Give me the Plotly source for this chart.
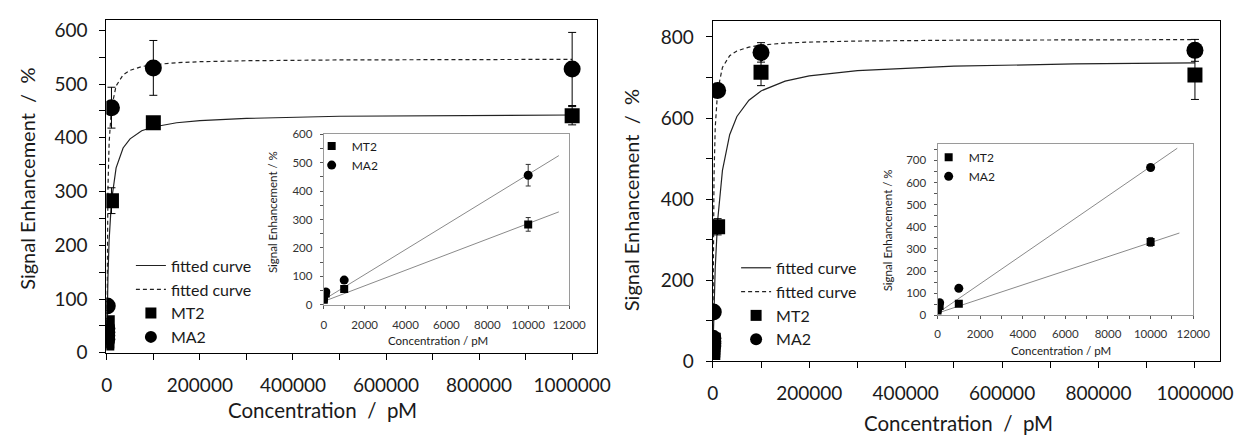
import plotly.graph_objects as go

W, H = 1255, 446

# ---------------- data ----------------
conc = [0, 1, 10, 100, 1000, 10000, 100000, 1000000]

# left panel
L_mt2 = [18, 22, 30, 40, 56, 283, 428, 441]
L_mt2_err = [3, 3, 4, 5, 8, 24, 6, 17]
L_ma2 = [25, 32, 38, 45, 87, 456, 530, 528]
L_ma2_err = [3, 3, 4, 5, 8, 38, 51, 68]

# right panel
R_mt2 = [22, 28, 35, 42, 52, 332, 713, 706]
R_mt2_err = [3, 3, 4, 5, 6, 20, 33, 60]
R_ma2 = [38, 45, 50, 57, 122, 668, 762, 767]
R_ma2_err = [3, 4, 5, 6, 8, 12, 24, 27]

# fitted curves
fit_x = [0, 500, 1000, 2500, 5000, 10000, 20000, 35000, 50000, 75000,
         100000, 150000, 200000, 300000, 500000, 750000, 1000000]
L_fit_mt2 = [20, 50, 79, 142, 210, 282, 344, 381, 398, 413,
             420, 428, 432, 436, 440, 441.5, 442.4]
L_fit_ma2 = [30, 127, 193, 307, 391, 455, 496.5, 517, 525.5, 532.5,
             536, 539.6, 541.5, 543.3, 544.8, 545.5, 545.9]
R_fit_mt2 = [15, 44, 71, 141, 230, 347, 471, 559, 604, 644,
             667, 691, 704, 717, 728, 733.5, 736]
R_fit_ma2 = [30, 183, 285, 455, 576, 667.5, 725, 754, 765.6, 775,
             780, 785, 787.4, 790, 792, 793, 793.5]

# inset linear fits (end points)
L_lin_x_ma2 = [0, 11500]
L_lin_ma2 = [18, 525]
L_lin_x_mt2 = [0, 11500]
L_lin_mt2 = [12, 327]
R_lin_x_ma2 = [0, 11250]
R_lin_ma2 = [10, 755]
R_lin_x_mt2 = [0, 11350]
R_lin_mt2 = [10, 372]

inset_conc = conc[:6]

FONT = "Lato"
TXT = "#1a1a1a"

# the page body adds an 8 px offset; positions below are given in window pixels
OFF = 8.0


def px_x(s):
    return (s - OFF) / W


def px_y(s):
    return 1 - (s - OFF) / H


fig = go.Figure()


def add_panel(xa, ya, leg, fit_mt2, fit_ma2, mt2, mt2e, ma2, ma2e):
    fig.add_trace(go.Scatter(x=fit_x, y=fit_mt2, mode="lines", name="fitted curve",
                             line=dict(color="#222222", width=1.2),
                             xaxis=xa, yaxis=ya, legend=leg))
    fig.add_trace(go.Scatter(x=fit_x, y=fit_ma2, mode="lines", name="fitted curve",
                             line=dict(color="#222222", width=1.2, dash="4px,3px"),
                             xaxis=xa, yaxis=ya, legend=leg))
    fig.add_trace(go.Scatter(x=conc, y=mt2, mode="markers", name="MT2", showlegend=False,
                             marker=dict(symbol="square", size=15, color="black"),
                             error_y=dict(type="data", array=mt2e, color="black",
                                          thickness=1, width=4),
                             xaxis=xa, yaxis=ya))
    fig.add_trace(go.Scatter(x=conc, y=ma2, mode="markers", name="MA2", showlegend=False,
                             marker=dict(symbol="circle", size=17, color="black"),
                             error_y=dict(type="data", array=ma2e, color="black",
                                          thickness=1, width=4),
                             xaxis=xa, yaxis=ya))
    # legend keys for the markers (smaller symbols, as in the reference key)
    fig.add_trace(go.Scatter(x=[None], y=[None], mode="markers", name="MT2",
                             marker=dict(symbol="square", size=11, color="black"),
                             xaxis=xa, yaxis=ya, legend=leg))
    fig.add_trace(go.Scatter(x=[None], y=[None], mode="markers", name="MA2",
                             marker=dict(symbol="circle", size=12, color="black"),
                             xaxis=xa, yaxis=ya, legend=leg))


def add_inset(xa, ya, leg, lx_ma2, l_ma2, lx_mt2, l_mt2, mt2, mt2e, ma2, ma2e):
    fig.add_trace(go.Scatter(x=lx_ma2, y=l_ma2, mode="lines", showlegend=False,
                             line=dict(color="#8a8a8a", width=1), xaxis=xa, yaxis=ya))
    fig.add_trace(go.Scatter(x=lx_mt2, y=l_mt2, mode="lines", showlegend=False,
                             line=dict(color="#8a8a8a", width=1), xaxis=xa, yaxis=ya))
    fig.add_trace(go.Scatter(x=inset_conc, y=mt2[:6], mode="markers", name="MT2",
                             marker=dict(symbol="square", size=8, color="black"),
                             error_y=dict(type="data", array=mt2e[:6], color="#333333",
                                          thickness=1, width=2.5),
                             xaxis=xa, yaxis=ya, legend=leg))
    fig.add_trace(go.Scatter(x=inset_conc, y=ma2[:6], mode="markers", name="MA2",
                             marker=dict(symbol="circle", size=9, color="black"),
                             error_y=dict(type="data", array=ma2e[:6], color="#333333",
                                          thickness=1, width=2.5),
                             xaxis=xa, yaxis=ya, legend=leg))


add_panel("x", "y", "legend", L_fit_mt2, L_fit_ma2, L_mt2, L_mt2_err, L_ma2, L_ma2_err)
add_inset("x2", "y2", "legend3", L_lin_x_ma2, L_lin_ma2, L_lin_x_mt2, L_lin_mt2,
          L_mt2, L_mt2_err, L_ma2, L_ma2_err)
add_panel("x3", "y3", "legend2", R_fit_mt2, R_fit_ma2, R_mt2, R_mt2_err, R_ma2, R_ma2_err)
add_inset("x4", "y4", "legend4", R_lin_x_ma2, R_lin_ma2, R_lin_x_mt2, R_lin_mt2,
          R_mt2, R_mt2_err, R_ma2, R_ma2_err)


def main_x(domain, rng, anchor):
    return dict(domain=domain, range=rng, autorange=False, anchor=anchor,
                showgrid=False, zeroline=False,
                showline=True, linecolor="black", linewidth=1, mirror=True,
                ticks="outside", ticklen=6, tickcolor="black", tickwidth=1,
                tickmode="array", tickvals=[0, 200000, 400000, 600000, 800000, 1000000],
                ticktext=["0", "200000", "400000", "600000", "800000", "1000000"],
                minor=dict(ticks="outside", ticklen=6,
                           tickvals=[100000, 300000, 500000, 700000, 900000],
                           tickcolor="black"),
                tickfont=dict(family=FONT, size=19, color=TXT), ticklabelstandoff=9)


def main_y(domain, rng, anchor, dt):
    return dict(domain=domain, range=rng, autorange=False, anchor=anchor,
                showgrid=False, zeroline=False,
                showline=True, linecolor="black", linewidth=1, mirror=True,
                ticks="outside", ticklen=6, tickcolor="black", tickwidth=1,
                tickmode="linear", tick0=0, dtick=dt,
                minor=dict(ticks="outside", ticklen=6, dtick=dt / 2, tickcolor="black"),
                tickfont=dict(family=FONT, size=19, color=TXT), ticklabelstandoff=8)


def inset_x(domain, anchor, standoff):
    return dict(domain=domain, range=[0, 12000], autorange=False, anchor=anchor,
                showgrid=False, zeroline=False,
                showline=True, linecolor="#9a9a9a", linewidth=1, mirror=True,
                ticks="outside", ticklen=3, tickcolor="#555555",
                tickmode="linear", tick0=0, dtick=2000, tickformat="d",
                minor=dict(ticks="outside", ticklen=3, dtick=1000, tickcolor="#555555"),
                tickfont=dict(family=FONT, size=11.5, color="#333333"),
                ticklabelstandoff=standoff)


def inset_y(domain, rng, anchor):
    return dict(domain=domain, range=rng, autorange=False, anchor=anchor,
                showgrid=False, zeroline=False,
                showline=True, linecolor="#9a9a9a", linewidth=1, mirror=True,
                ticks="outside", ticklen=3, tickcolor="#555555",
                tickmode="linear", tick0=0, dtick=100,
                minor=dict(ticks="outside", ticklen=3, dtick=50, tickcolor="#555555"),
                tickfont=dict(family=FONT, size=11.5, color="#333333"), ticklabelstandoff=5)


fig.update_layout(
    width=W, height=H, autosize=False, margin=dict(l=0, r=0, t=0, b=0, pad=0),
    paper_bgcolor="white", plot_bgcolor="white",
    font=dict(family=FONT, color=TXT),
    xaxis=main_x([px_x(103), px_x(602)], [-1000, 1052500], "y"),
    yaxis=main_y([px_y(360), px_y(12.7)], [0, 620], "x", 100),
    xaxis2=inset_x([px_x(324.3), px_x(574)], "y2", 6),
    yaxis2=inset_y([px_y(310), px_y(132.3)], [0, 600], "x2"),
    xaxis3=main_x([px_x(720), px_x(1236.7)], [-600, 1052300], "y3"),
    yaxis3=main_y([px_y(369), px_y(14)], [0, 840], "x3", 200),
    xaxis4=inset_x([px_x(949), px_x(1209.3)], "y4", 5),
    yaxis4=inset_y([px_y(321), px_y(142.7)], [0, 773], "x4"),
    legend=dict(x=px_x(128), y=px_y(251.4), xanchor="left", yanchor="top",
                bgcolor="rgba(0,0,0,0)", font=dict(family=FONT, size=16, color=TXT),
                tracegroupgap=0),
    legend2=dict(x=px_x(744), y=px_y(253.8), xanchor="left", yanchor="top",
                 bgcolor="rgba(0,0,0,0)", font=dict(family=FONT, size=16, color=TXT),
                 tracegroupgap=0),
    legend3=dict(x=px_x(312), y=px_y(129.5), xanchor="left", yanchor="top",
                 bgcolor="rgba(0,0,0,0)", font=dict(family=FONT, size=12, color=TXT),
                 tracegroupgap=0),
    legend4=dict(x=px_x(940), y=px_y(141.2), xanchor="left", yanchor="top",
                 bgcolor="rgba(0,0,0,0)", font=dict(family=FONT, size=12, color=TXT),
                 tracegroupgap=0),
)

annos = [
    # main axis titles
    dict(text="Concentration  /  pM", x=323, y=420, size=20.5),
    dict(text="Concentration  /  pM", x=970, y=433, size=20.5),
    dict(text="Signal Enhancement  /  %", x=22, y=179, size=20, angle=-90),
    dict(text="Signal Enhancement  /  %", x=637, y=201, size=20, angle=-90),
    # inset axis titles
    dict(text="Concentration / pM", x=441, y=347, size=11.5),
    dict(text="Concentration / pM", x=1075, y=358, size=11.5),
    dict(text="Signal Enhancement / %", x=272, y=213, size=11.5, angle=-90),
    dict(text="Signal Enhancement / %", x=899, y=232, size=11.5, angle=-90),
]
for a in annos:
    fig.add_annotation(text=a["text"], x=px_x(a["x"]), y=px_y(a["y"]),
                       xref="paper", yref="paper",
                       xanchor="center", yanchor="middle", showarrow=False,
                       textangle=a.get("angle", 0),
                       font=dict(family=FONT, size=a["size"], color=TXT))

fig.write_html("out.html")
